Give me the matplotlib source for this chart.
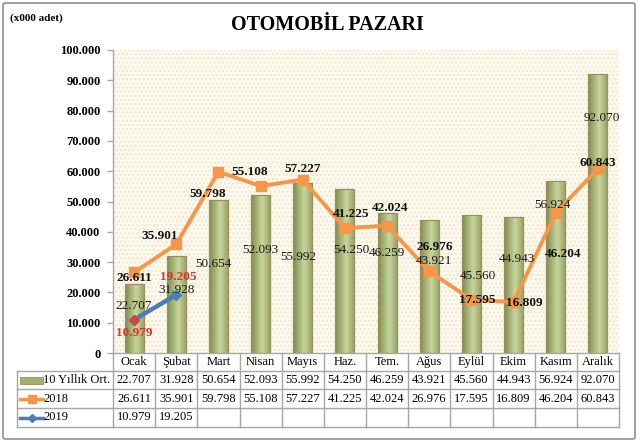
import matplotlib
matplotlib.use("Agg")
import matplotlib.pyplot as plt
import matplotlib.transforms as mtransforms
from matplotlib.patches import Rectangle, FancyBboxPatch
from matplotlib.lines import Line2D
import numpy as np

# ---------------- data ----------------
months = ["Ocak", "Şubat", "Mart", "Nisan", "Mayıs", "Haz.", "Tem.",
          "Ağus", "Eylül", "Ekim", "Kasım", "Aralık"]
avg10 = [22707, 31928, 50654, 52093, 55992, 54250, 46259, 43921, 45560,
         44943, 56924, 92070]
y2018 = [26611, 35901, 59798, 55108, 57227, 41225, 42024, 26976, 17595,
         16809, 46204, 60843]
y2019 = [10979, 19205]
series_names = ["10 Yıllık Ort.", "2018", "2019"]
title = "OTOMOBİL PAZARI"
unit_label = "(x000 adet)"
yticks = list(range(0, 100001, 10000))

# label placement (layout only, in data units of y / x offsets)
avg_label_y = [15500, 20800, 29500, 34000, 31700, 34000, 33000, 30500,
               25500, 31000, 49000, 77500]
avg_label_dx = [0, 0, -0.12, 0, -0.1, 0.15, 0, 0.1, 0.15, 0.07, -0.07, 0.1]
l18_label_y = [24800, 38500, 52600, 59600, 60700, 46000, 47800, 35000,
               17500, 16500, 32800, 62800]
l18_label_dx = [0, -0.4, -0.25, -0.25, 0, 0.15, 0.07, 0.12, 0.15, 0.25,
                0.17, 0]
l19_label_y = [6500, 25200]
l19_label_dx = [0, 0.05]

# ---------------- style ----------------
W, H = 640, 445
SERIF = ["Liberation Serif", "DejaVu Serif"]
plt.rcParams["font.family"] = SERIF
ORANGE = "#F79646"
BLUE = "#4A7EBB"
RED = "#E0312B"
GRID = "#A6A6A6"


def fmt(v):
    return f"{v:,}".replace(",", ".") if v >= 1000 else (
        "0" if v == 0 else str(v))


def fy(px):
    return 1 - px / H


def fx(px):
    return px / W


fig = plt.figure(figsize=(6.4, 4.45), dpi=100)
fig.patch.set_facecolor("white")

# outer border
border = FancyBboxPatch((fx(3), fy(439)), fx(632), fy(3) - fy(439),
                        boxstyle="round,pad=0,rounding_size=0.004",
                        transform=fig.transFigure, fill=False,
                        edgecolor="#9A9A9A", linewidth=1.3)
fig.patches.append(border)

ax_l, ax_r, ax_t, ax_b = 113, 619, 50, 353
ax = fig.add_axes([fx(ax_l), fy(ax_b), fx(ax_r - ax_l), fy(ax_t) - fy(ax_b)])
ax.set_facecolor("#FCF9EE")
# dotted texture
ax.add_patch(Rectangle((0, 0), 1, 1, transform=ax.transAxes, fill=False,
                       hatch="....", edgecolor="#EFE6CC", linewidth=0,
                       zorder=0.5))
n = len(months)
x = np.arange(n)
ax.set_xlim(-0.5, n - 0.5)
ax.set_ylim(0, 100000)

# bars with gradient
bar_w = 0.45
bars = ax.bar(x, avg10, width=bar_w, color="#A3B170", edgecolor="#9E8D5A",
              linewidth=0.8, zorder=2)
grad = np.linspace(0, 1, 64)
c_dark = np.array([0x80, 0x8C, 0x50]) / 255
c_light = np.array([0xC8, 0xD6, 0x9C]) / 255
c_right = np.array([0x98, 0xA6, 0x69]) / 255
cols = []
for g in grad:
    if g < 0.6:
        t = g / 0.6
        cols.append(c_dark * (1 - t) + c_light * t)
    else:
        t = (g - 0.6) / 0.4
        cols.append(c_light * (1 - t) + c_right * t)
img = np.array(cols)[None, :, :]
for b in bars:
    bx, by = b.get_x(), b.get_y()
    bw, bh = b.get_width(), b.get_height()
    im = ax.imshow(img, extent=(bx, bx + bw, by, by + bh), aspect="auto",
                   zorder=2.1, interpolation="bilinear")
    im.set_clip_path(b)
    ax.add_patch(Rectangle((bx, by), bw, bh, fill=False,
                           edgecolor="#9E8D5A", linewidth=0.8, zorder=2.2))

# lines
ax.plot(x, y2018, color=ORANGE, linewidth=2.8, marker="s", markersize=6.5,
        markerfacecolor=ORANGE, markeredgecolor=ORANGE, zorder=3)
x19 = x[:len(y2019)]
ax.plot(x19, y2019, color=BLUE, linewidth=3.2, marker="D", markersize=5,
        markerfacecolor=BLUE, markeredgecolor=BLUE, zorder=3)
ax.plot(x19[:1], y2019[:1], linestyle="none", marker="D", markersize=5.5,
        markerfacecolor="#D0463C", markeredgecolor="#D0463C", zorder=3.1)

# data labels
for i, v in enumerate(avg10):
    ax.text(i + avg_label_dx[i], avg_label_y[i], fmt(v), ha="center",
            va="center", fontsize=9.5, color="#1A1A1A", zorder=4)
for i, v in enumerate(y2018):
    ax.text(i + l18_label_dx[i], l18_label_y[i], fmt(v), ha="center",
            va="center", fontsize=9.5, fontweight="bold", color="#111111",
            zorder=4)
for i, v in enumerate(y2019):
    ax.text(i + l19_label_dx[i], l19_label_y[i], fmt(v), ha="center",
            va="center", fontsize=9.5, fontweight="bold", color=RED,
            zorder=4)

# axes styling
for s in ["top", "right", "bottom"]:
    ax.spines[s].set_visible(False)
ax.spines["left"].set_color(GRID)
ax.spines["left"].set_linewidth(1)
ax.set_xticks([])
ax.set_yticks(yticks)
ax.set_yticklabels([fmt(t) for t in yticks], fontsize=9,
                   fontweight="bold")
ax.tick_params(axis="y", length=4, width=1, color=GRID, pad=5)

# title & unit
fig.text(fx(327), fy(25), title, ha="center", va="center", fontsize=14.5,
         fontweight="bold")
fig.text(fx(10), fy(18), unit_label, ha="left", va="center", fontsize=8,
         fontweight="bold")

# ---------------- data table ----------------
blend = mtransforms.blended_transform_factory(ax.transData, fig.transFigure)
row_px = [353, 371, 389, 408, 427]
lbl_left = 17
# horizontal lines
fig.add_artist(Line2D([fx(ax_l), fx(ax_r)], [fy(row_px[0])] * 2,
                      transform=fig.transFigure, color=GRID, lw=1))
for r in row_px[1:]:
    fig.add_artist(Line2D([fx(lbl_left), fx(ax_r)], [fy(r)] * 2,
                          transform=fig.transFigure, color=GRID, lw=1))
# vertical lines
fig.add_artist(Line2D([fx(lbl_left)] * 2, [fy(row_px[1]), fy(row_px[-1])],
                      transform=fig.transFigure, color=GRID, lw=1))
for i in range(n + 1):
    fig.add_artist(Line2D([i - 0.5] * 2, [fy(row_px[0]), fy(row_px[-1])],
                          transform=blend, color=GRID, lw=1))

# header
for i, m in enumerate(months):
    fig.text(i, fy((row_px[0] + row_px[1]) / 2), m, transform=blend,
             ha="center", va="center", fontsize=9)
rows = [avg10, y2018, y2019]
for r, vals in enumerate(rows):
    yc = fy((row_px[r + 1] + row_px[r + 2]) / 2)
    for i, v in enumerate(vals):
        fig.text(i, yc, fmt(v), transform=blend, ha="center", va="center",
                 fontsize=9)
    fig.text(fx(43), yc, series_names[r], ha="left", va="center",
             fontsize=9)

# legend keys
yc0 = fy((row_px[1] + row_px[2]) / 2)
key = Rectangle((fx(20), yc0 - 3.5 / H), fx(23), 7 / H,
                transform=fig.transFigure, facecolor="#A3B170",
                edgecolor="#9E8D5A", lw=0.6)
fig.add_artist(key)
yc1 = fy((row_px[2] + row_px[3]) / 2)
fig.add_artist(Line2D([fx(20), fx(43)], [yc1, yc1],
                      transform=fig.transFigure, color=ORANGE, lw=2.5))
fig.add_artist(Line2D([fx(31.5)], [yc1], transform=fig.transFigure,
                      marker="s", markersize=5.5, color=ORANGE))
yc2 = fy((row_px[3] + row_px[4]) / 2)
fig.add_artist(Line2D([fx(20), fx(43)], [yc2, yc2],
                      transform=fig.transFigure, color=BLUE, lw=2.5))
fig.add_artist(Line2D([fx(31.5)], [yc2], transform=fig.transFigure,
                      marker="D", markersize=4.5, color=BLUE))

fig.savefig("out.png", dpi=100)
